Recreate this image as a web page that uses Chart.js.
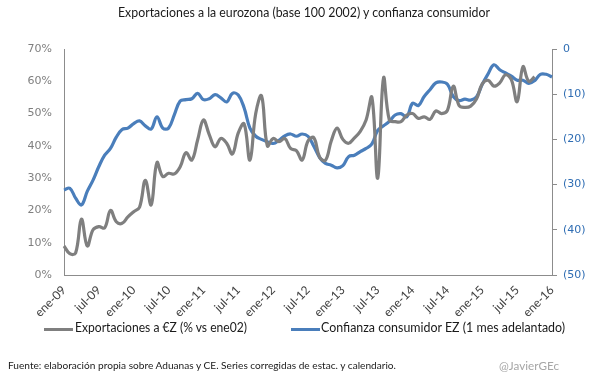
<!DOCTYPE html>
<html><head><meta charset="utf-8">
<script src="https://cdn.jsdelivr.net/npm/chart.js@4.4.1/dist/chart.umd.min.js"></script>
<style>
html,body{margin:0;padding:0;background:#fff;}
#wrap{position:relative;width:605px;height:378px;overflow:hidden;font-family:Lato,'Open Sans',sans-serif;}
#c{position:absolute;left:0;top:0;}
.t{position:absolute;white-space:nowrap;transform-origin:0 50%;line-height:1;}
.sw{position:absolute;height:3px;}
</style></head><body>
<div id="wrap">
<canvas id="c" width="605" height="378"></canvas>
<div class="t" id="title" data-w="372" style="left:118px;top:6px;font-size:13.5px;color:#1a1a1a">Exportaciones a la eurozona (base 100 2002) y confianza consumidor</div>
<div class="sw" style="left:44px;top:328px;width:29px;background:#7f7f7f"></div>
<div class="t" id="leg1" data-w="172" style="left:75px;top:322px;font-size:12.5px;color:#1a1a1a">Exportaciones a €Z (% vs ene02)</div>
<div class="sw" style="left:291px;top:328px;width:29px;background:#4a7ebb"></div>
<div class="t" id="leg2" data-w="244" style="left:321px;top:322px;font-size:12.5px;color:#1a1a1a">Confianza consumidor EZ (1 mes adelantado)</div>
<div class="t" id="foot" data-w="388" style="left:8px;top:360px;font-size:10px;color:#1a1a1a">Fuente: elaboración propia sobre Aduanas y CE. Series corregidas de estac. y calendario.</div>
<div class="t" id="handle" data-w="60" style="left:499px;top:361px;font-size:10.5px;color:#a6a6a6">@JavierGEc</div>
</div>
<script>
const CATEGORIES = [
 'ene-09','feb-09','mar-09','abr-09','may-09','jun-09','jul-09','ago-09','sep-09','oct-09','nov-09','dic-09',
 'ene-10','feb-10','mar-10','abr-10','may-10','jun-10','jul-10','ago-10','sep-10','oct-10','nov-10','dic-10',
 'ene-11','feb-11','mar-11','abr-11','may-11','jun-11','jul-11','ago-11','sep-11','oct-11','nov-11','dic-11',
 'ene-12','feb-12','mar-12','abr-12','may-12','jun-12','jul-12','ago-12','sep-12','oct-12','nov-12','dic-12',
 'ene-13','feb-13','mar-13','abr-13','may-13','jun-13','jul-13','ago-13','sep-13','oct-13','nov-13','dic-13',
 'ene-14','feb-14','mar-14','abr-14','may-14','jun-14','jul-14','ago-14','sep-14','oct-14','nov-14','dic-14',
 'ene-15','feb-15','mar-15','abr-15','may-15','jun-15','jul-15','ago-15','sep-15','oct-15','nov-15','dic-15',
 'ene-16'
];
const TICK_LABELS = ['ene-09','jul-09','ene-10','jul-10','ene-11','jul-11','ene-12','jul-12','ene-13','jul-13','ene-14','jul-14','ene-15','jul-15','ene-16'];
// Exportaciones a €Z (% vs ene02)
const EXPORTS = [
 9, 6.6, 6.8, 17.3, 9, 14, 15, 14.6, 20, 16.5, 16, 18,
 19.6, 21, 29.3, 21.7, 34.8, 30.5, 31.5, 31.3, 33.5, 37.9, 35.6, 41.8,
 48, 43.5, 39.7, 42.3, 40.8, 37.5, 44, 46.8, 35.6, 50, 55.5, 40,
 42.3, 41.3, 42.3, 39.2, 38.5, 35.6, 41.5, 42.5, 36.5, 35.5, 41.5, 45.5,
 42, 40.8, 42.5, 44.5, 48, 55, 30, 61, 48, 47.5, 47.5, 49.5,
 50, 48.5, 49, 48.2, 50.8, 50, 51, 58.5, 52.5, 51.9, 52.3, 54.5,
 59.2, 60.3, 58.5, 59.5, 62, 60.5, 53.7, 64.5, 60, 61.4, null, null,
 null
];
// Confianza consumidor EZ (1 mes adelantado)
const CONFIDENCE = [
 -31.2, -30.8, -33, -34.5, -31.5, -29, -26, -23.5, -22, -19.5, -17.8, -17.5,
 -16.5, -15.9, -17, -17.7, -15, -17.5, -17.5, -14.5, -11.5, -11.2, -11, -9.8,
 -11.2, -11, -10.1, -10.8, -11.7, -9.8, -10.2, -13, -17.5, -19.3, -20, -20.5,
 -20.9, -20.2, -19.2, -18.8, -19.3, -18.8, -19.3, -21.5, -24, -25.3, -25.7, -26.3,
 -25.8, -23.8, -23.5, -22.7, -22, -21, -18, -17, -16, -14.6, -14.3, -15,
 -12, -12.5, -10.5, -9, -7.5, -7.3, -7.8, -10.5, -11.4, -11.1, -11.3, -10.6,
 -7.8, -5.5, -3.5, -4.6, -5.3, -6, -6.9, -6.9, -7.6, -7, -5.6, -5.6,
 -6.2
];
const LEFT_TICKS = [0,10,20,30,40,50,60,70];
const RIGHT_TICKS = [-50,-40,-30,-20,-10,0];

const AXIS = '#8c8c8c';
new Chart(document.getElementById('c'), {
  type: 'line',
  data: {
    labels: CATEGORIES,
    datasets: [
      {label:'Exportaciones a €Z (% vs ene02)', data: EXPORTS, yAxisID:'y', borderColor:'#7f7f7f', borderWidth:3.2, pointRadius:0, tension:0.4, fill:false, spanGaps:false},
      {label:'Confianza consumidor EZ (1 mes adelantado)', data: CONFIDENCE, yAxisID:'y2', borderColor:'#4a7ebb', borderWidth:3.2, pointRadius:0, tension:0.4, fill:false}
    ]
  },
  options: {
    responsive:false, animation:false, devicePixelRatio:1,
    layout:{padding:{top:49,left:0,right:0,bottom:0}},
    plugins:{legend:{display:false}, title:{display:false}, tooltip:{enabled:false}},
    scales:{
      x:{
        offset:false,
        grid:{display:true, drawOnChartArea:false, drawTicks:false, color:AXIS},
        border:{display:true, color:AXIS, width:1},
        ticks:{autoSkip:false, maxRotation:45, minRotation:45, color:'#404040', font:{family:'Lato', size:12}, padding:8,
          callback:(v,i)=> TICK_LABELS.includes(CATEGORIES[i]) ? CATEGORIES[i] : ''},
        afterFit:s=>{ s.height = 103; }
      },
      y:{
        position:'left', min:0, max:70,
        afterBuildTicks:s=>{ s.ticks = LEFT_TICKS.map(v=>({value:v})); },
        ticks:{callback:v=>v+'%', color:'#7f7f7f', font:{family:'DejaVu Sans', size:11}, padding:12},
        grid:{display:true, drawOnChartArea:false, drawTicks:false, color:AXIS},
        border:{display:true, color:AXIS, width:1},
        afterFit:s=>{ s.width = 64; }
      },
      y2:{
        position:'right', min:-50, max:0,
        afterBuildTicks:s=>{ s.ticks = RIGHT_TICKS.map(v=>({value:v})); },
        ticks:{callback:v=> v<0 ? '('+(-v)+')' : String(v), color:'#2f6db3', font:{family:'DejaVu Sans', size:11}, padding:6},
        grid:{display:true, drawOnChartArea:false, drawTicks:true, tickLength:5, color:AXIS},
        border:{display:true, color:AXIS, width:1},
        afterFit:s=>{ s.width = 53; }
      }
    }
  }
});
document.querySelectorAll('.t[data-w]').forEach(el=>{
  const w = el.getBoundingClientRect().width;
  const target = parseFloat(el.dataset.w);
  if (w>0) el.style.transform = 'scaleX(' + (target/w) + ')';
});
</script>
</body></html>
